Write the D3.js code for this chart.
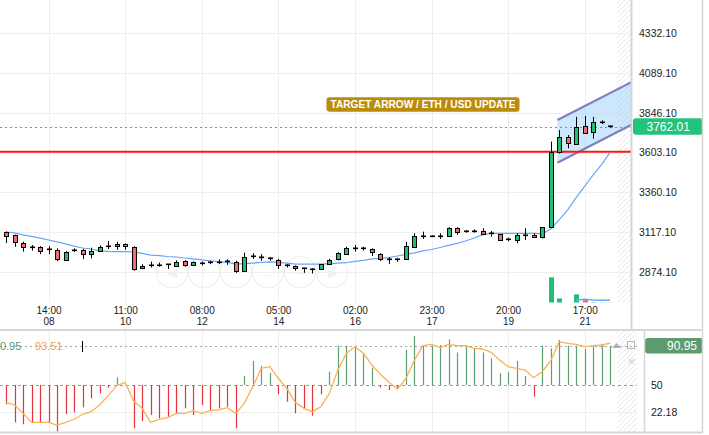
<!DOCTYPE html>
<html><head><meta charset="utf-8">
<script src="https://cdn.jsdelivr.net/npm/d3@7"></script>
<style>
html,body{margin:0;padding:0;background:#fff;}
svg{display:block;font-family:"Liberation Sans",Arial,sans-serif;}
</style></head><body>
<svg id="c" width="709" height="435"></svg>
<script>
// ---------------- data ----------------
const openP  = [3118,3099,3048,3024,3027,3012,3007,2946,3008,3004,2982,3001,3027,3031,3043,3027,2897,2913,2915,2919,2914,2938,2916,2930,2933,2933,2936,2931,2874,2971,2967,2956,2946,2912,2906,2896,2891,2891,2920,2950,2987,3017,3017,3011,2981,2952,2951,2950,3027,3090,3088,3093,3094,3140,3123,3123,3125,3113,3103,3072,3068,3099,3099,3084,3148,3602,3696,3658,3766,3725,3791,3763];
const highP  = [3120,3101,3058,3037,3030,3030,3017,3000,3017,3014,3021,3035,3062,3057,3047,3030,2920,2936,2930,2921,2944,2945,2937,2936,2941,2950,2950,2941,2991,2987,2981,2962,2953,2920,2912,2899,2895,2922,2953,2994,3027,3037,3027,3017,2987,2963,2959,3057,3109,3119,3096,3109,3146,3146,3129,3133,3140,3123,3105,3082,3109,3140,3109,3146,3670,3740,3710,3821,3827,3821,3800,3770];
const lowP   = [3050,3027,2997,3003,2981,2982,2938,2940,2994,2951,2956,2995,3013,3008,3008,2880,2890,2900,2905,2891,2904,2904,2912,2912,2920,2920,2916,2867,2874,2952,2941,2941,2891,2900,2880,2867,2863,2891,2914,2943,2982,2997,3003,2970,2940,2922,2934,2946,3020,3075,3087,3075,3088,3100,3113,3113,3104,3088,3062,3060,3048,3068,3085,3078,3140,3597,3629,3658,3719,3688,3777,3752];
const closeP = [3093,3054,3023,3022,3003,3010,2951,2997,3006,2982,3001,3027,3029,3043,3032,2895,2909,2915,2916,2918,2936,2914,2933,2929,2934,2932,2937,2874,2962,2972,2966,2957,2916,2913,2891,2895,2892,2922,2947,2987,3021,3018,3016,2990,2952,2953,2950,3031,3093,3091,3095,3094,3140,3113,3122,3124,3109,3112,3068,3071,3099,3100,3085,3146,3605,3696,3660,3760,3725,3787,3792,3762.01];
const maLine = [3117,3111,3099,3090,3079,3068,3056,3044,3031,3019,3013,3001,2998,2997,2997,2995,2986,2976,2973,2967,2964,2958,2952,2946,2940,2935,2931,2921,2923,2927,2931,2934,2931,2927,2921,2921,2921,2921,2923,2926,2929,2937,2943,2952,2956,2961,2970,2980,2989,3001,3010,3022,3035,3047,3062,3080,3099,3108,3109,3109,3109,3109,3108,3105,3135,3191,3252,3327,3398,3466,3531,3605];
const volume = [0,0,0,0,0,0,0,0,0,0,0,0,0,0,0,0,0,0,0,0,0,0,0,0,0,0,0,0,0,0,0,0,0,0,0,0,0,0,0,0,0,0,0,0,0,0,0,0,0,0,0,0,0,0,0,0,0,0,0,0,0,0,0,0,100,17,0,33,14,2,1,1];
const volumeMA = [null,null,null,null,null,null,null,null,null,null,null,null,null,null,null,null,null,null,null,null,null,null,null,null,null,null,null,null,null,null,null,null,null,null,null,null,null,null,null,null,null,null,null,null,null,null,null,null,null,null,null,null,null,null,null,null,null,null,null,null,null,null,null,null,null,null,null,10,14,11,10,10];
const oscHist = [29.9,11.1,9.1,10.7,10.7,10.7,1.4,19.8,21.5,26.7,36.1,41.4,47.2,58,50.5,4.9,12.5,18.8,15.3,17,20.5,25.7,18.8,29.2,24,25.7,27.4,4.9,59.4,75,69.8,62.8,40.3,32.6,20.5,25.7,18,40.3,63.9,91,91,90,82,68,47.2,44.8,47,86.5,101,91.7,91,91.7,97.6,84,89.9,87.5,84,77.8,62.2,63.2,75,59.4,37.8,91,88.2,96.9,91,91,87.5,91.7,91.7,90.95];
const oscSignal = [32,29.2,20.5,11.1,11.1,11.1,8.3,11.1,14.3,19.5,22.2,29.2,38.9,49.3,52.8,33.3,25.7,11.1,14.3,15.9,20.5,20.5,23.3,20.5,23.3,24,26.4,20.5,30.9,48.3,67.4,69.1,57,46.5,32,25.7,22.2,27.4,41.4,65.6,83,89.9,83,70.8,61.1,52.8,45.8,57,76,91,92.4,88.9,92.4,91,91,88.2,87.5,84,76,69.1,67.4,65.6,57.6,63.9,75,95.1,93.4,92.4,89.9,91,91.7,93.51];
const priceTicks = [2874.10,3117.10,3360.10,3603.10,3846.10,4089.10,4332.10];
const oscTicks = [22.18,50];
const timeTicks = ["2024-05-08T14:00Z","2024-05-10T11:00Z","2024-05-12T08:00Z","2024-05-14T05:00Z","2024-05-16T02:00Z","2024-05-17T23:00Z","2024-05-19T20:00Z","2024-05-21T17:00Z"];
const lastPrice = 3762.01, lastOsc = 90.95, lastSignal = 93.51;
const resistance = 3608;
const channelTop = [[64.8,3802],[73.6,4036]];
const channelBottom = [[64.8,3541],[73.6,3776]];
const annotationText = "TARGET ARROW / ETH / USD UPDATE";
const annotationAt = [49, 3897];

// ---------------- setup ----------------
const startTime = Date.UTC(2024,4,7,13), stepMs = 5*3600e3;
const tOf = i => new Date(startTime + i*stepMs);
const svg = d3.select("#c");
const plotR = 632, plotB = 302.7;
const GREEN = "#1fbf78", RED = "#f36c6c";

const x = d3.scaleUtc().domain([tOf(-0.705), tOf(73.56)]).range([0, plotR]);
const y = d3.scaleLinear().domain([2874.1, 4332.1]).range([271.7, 33.3]);
const yv = d3.scaleLinear().domain([0, 100]).range([plotB, 277.3]);
const yo = d3.scaleLinear().domain([22.18, 90.95]).range([411.7, 345.7]);
const tickDates = timeTicks.map(s => new Date(s));
const px = v => Math.round(v) + 0.5;

const defs = svg.append("defs");
const pat = defs.append("pattern").attr("id","hatch").attr("patternUnits","userSpaceOnUse").attr("width",5).attr("height",5);
pat.append("path").attr("d","M-1,1 l2,-2 M0,5 l5,-5 M4,6 l2,-2").attr("stroke","#e6e6e6").attr("stroke-width",1);
defs.append("clipPath").attr("id","mainClip").append("rect").attr("x",0).attr("y",0).attr("width",plotR).attr("height",plotB);
defs.append("clipPath").attr("id","oscClip").append("rect").attr("x",0).attr("y",331).attr("width",637).attr("height",101);

// ---------------- main panel ----------------
const main = svg.append("g").attr("clip-path","url(#mainClip)");
main.append("rect").attr("x",617).attr("y",0).attr("width",15).attr("height",plotB).attr("fill","url(#hatch)");
main.append("g").selectAll("line").data(priceTicks).join("line")
  .attr("x1",0).attr("x2",plotR).attr("y1",d=>px(y(d))).attr("y2",d=>px(y(d)))
  .attr("stroke","#eeeeee");
main.append("g").selectAll("line").data(tickDates).join("line")
  .attr("x1",d=>px(x(d))).attr("x2",d=>px(x(d))).attr("y1",0).attr("y2",plotB)
  .attr("stroke","#eeeeee");

// nav circles (very faint)
const navX = [172,204,236,268,300,332], navG = ["◀","+","−","↔","⇢","▶"];
const nav = main.append("g");
nav.selectAll("circle").data(navX).join("circle").attr("cx",d=>d).attr("cy",272).attr("r",15.5)
  .attr("fill","none").attr("stroke","#f0f0f0").attr("stroke-width",1.2);
nav.selectAll("text").data(navX).join("text").attr("x",d=>d).attr("y",277).attr("text-anchor","middle")
  .attr("font-size",12).attr("fill","#f0f0f0").text((d,i)=>navG[i]);

// channel
const cPoly = [...channelTop, ...channelBottom.slice().reverse()].map(([i,p])=>[x(tOf(i)), y(p)]);
main.append("polygon").attr("points", cPoly.map(p=>p.join(",")).join(" ")).attr("fill","rgba(144,202,249,0.45)");
[channelTop, channelBottom].forEach(seg=>{
  main.append("line").attr("x1",x(tOf(seg[0][0]))).attr("y1",y(seg[0][1]))
    .attr("x2",x(tOf(seg[1][0]))).attr("y2",y(seg[1][1]))
    .attr("stroke","#7e80c6").attr("stroke-width",2.2);
});

// volume
main.append("g").selectAll("rect").data(volume.map((v,i)=>({v,i})).filter(d=>d.v>0)).join("rect")
  .attr("x",d=>Math.round(x(tOf(d.i)))-2).attr("width",5)
  .attr("y",d=>yv(d.v)).attr("height",d=>plotB-yv(d.v))
  .attr("fill",d=>closeP[d.i]>=openP[d.i]?GREEN:RED);
main.append("path").datum(volumeMA.map((v,i)=>({v,i})).filter(d=>d.v!=null))
  .attr("d", d3.line().x(d=>x(tOf(d.i))).y(d=>yv(d.v)))
  .attr("fill","none").attr("stroke","#6aa6f8").attr("stroke-width",1.5);

// red resistance line
main.append("line").attr("x1",0).attr("x2",plotR).attr("y1",y(resistance)).attr("y2",y(resistance))
  .attr("stroke","#ff1414").attr("stroke-width",2);
// last price dotted line
main.append("line").attr("x1",0).attr("x2",plotR).attr("y1",px(y(lastPrice))).attr("y2",px(y(lastPrice)))
  .attr("stroke","#8a8a8a").attr("stroke-dasharray","2,3");

// MA line
main.append("path").datum(maLine)
  .attr("d", d3.line().x((d,i)=>x(tOf(i))).y(d=>y(d)))
  .attr("fill","none").attr("stroke","#6aa6f8").attr("stroke-width",1.2);

// candles
const candles = main.append("g");
openP.forEach((o,i)=>{
  const c = closeP[i], h = highP[i], l = lowP[i];
  const cx = Math.round(x(tOf(i)));
  candles.append("line").attr("x1",cx+0.5).attr("x2",cx+0.5).attr("y1",y(h)).attr("y2",y(l))
    .attr("stroke","#000").attr("stroke-width",1);
  const top = Math.min(y(o),y(c)), bh = Math.abs(y(o)-y(c));
  if (bh < 1.3) {
    candles.append("rect").attr("x",cx-2).attr("width",5).attr("y",Math.round(top)-0.5).attr("height",1.6).attr("fill","#000");
  } else {
    candles.append("rect").attr("x",cx-1.5).attr("width",4)
      .attr("y",Math.round(top)+0.5).attr("height",Math.max(1,Math.round(bh)))
      .attr("fill", c>=o?GREEN:RED).attr("stroke","#000").attr("stroke-width",1);
  }
});

// annotation
const ax = x(tOf(annotationAt[0])), ay = y(annotationAt[1]);
svg.append("rect").attr("x",ax-96.5).attr("y",ay-7.2).attr("width",193).attr("height",14.6).attr("rx",3)
  .attr("fill","#b98c0c");
svg.append("text").attr("x",ax).attr("y",ay+4).attr("text-anchor","middle")
  .attr("font-size",11).attr("font-weight","bold").attr("fill","#fff")
  .attr("textLength",185).attr("lengthAdjust","spacingAndGlyphs").text(annotationText);

// ---------------- axes ----------------
const yAxis = d3.axisRight(y).tickValues(priceTicks).tickSize(0).tickFormat(d3.format(".2f"));
const yg = svg.append("g").attr("transform",`translate(639,0)`).call(yAxis);
yg.select(".domain").remove();
yg.selectAll("text").attr("x",0).attr("dy","0.33em").attr("font-size",10.5).attr("fill","#222")
  .attr("font-family","Liberation Sans, Arial, sans-serif");

const fH = d3.utcFormat("%H:%M"), fD = d3.utcFormat("%d");
const xAxis = d3.axisBottom(x).tickValues(tickDates).tickSize(0).tickFormat("");
const xg = svg.append("g").attr("transform",`translate(0,${plotB})`).call(xAxis);
xg.select(".domain").remove();
xg.selectAll(".tick text").remove();
xg.selectAll(".tick").each(function(d){
  const t = d3.select(this).append("text").attr("y",11.2).attr("text-anchor","middle").attr("font-size",10).attr("fill","#222")
    .attr("font-family","Liberation Sans, Arial, sans-serif");
  t.append("tspan").attr("x",0).text(fH(d));
  t.append("tspan").attr("x",0).attr("dy",11.2).text(fD(d));
});

// last price badge
const by = y(lastPrice);
svg.append("rect").attr("x",633).attr("y",by-8.3).attr("width",70).attr("height",16.6).attr("rx",3).attr("fill","#22c37b");
svg.append("text").attr("x",646.5).attr("y",by+4.4).attr("font-size",12).attr("fill","#fff").text(d3.format(".2f")(lastPrice));

// panel borders
const border = "#d6d6d6";
svg.append("line").attr("x1",631.5).attr("x2",631.5).attr("y1",0).attr("y2",330).attr("stroke",border).attr("stroke-width",2);
svg.append("line").attr("x1",702.5).attr("x2",702.5).attr("y1",0).attr("y2",330).attr("stroke",border).attr("stroke-width",1.5);
svg.append("line").attr("x1",0).attr("x2",703).attr("y1",330).attr("y2",330).attr("stroke",border).attr("stroke-width",2);

// ---------------- oscillator panel ----------------
const osc = svg.append("g").attr("clip-path","url(#oscClip)");
osc.append("rect").attr("x",617).attr("y",331).attr("width",20).attr("height",101).attr("fill","url(#hatch)");
osc.append("g").selectAll("line").data(tickDates).join("line")
  .attr("x1",d=>px(x(d))).attr("x2",d=>px(x(d))).attr("y1",331).attr("y2",432).attr("stroke","#eeeeee");
osc.append("line").attr("x1",0).attr("x2",637).attr("y1",px(yo(22.18))).attr("y2",px(yo(22.18))).attr("stroke","#eeeeee");
osc.append("line").attr("x1",0).attr("x2",637).attr("y1",px(yo(50))).attr("y2",px(yo(50)))
  .attr("stroke","#9a9a9a").attr("stroke-dasharray","3,3");
osc.append("line").attr("x1",0).attr("x2",637).attr("y1",px(yo(lastOsc))).attr("y2",px(yo(lastOsc)))
  .attr("stroke","#a8a8a8").attr("stroke-dasharray","2,3");
osc.append("g").selectAll("line").data(oscHist).join("line")
  .attr("x1",(d,i)=>Math.round(x(tOf(i)))+0.5).attr("x2",(d,i)=>Math.round(x(tOf(i)))+0.5)
  .attr("y1",yo(50)).attr("y2",d=>yo(d))
  .attr("stroke",d=>d>=50?"#5e9e72":"#e8313a").attr("stroke-width",1.2);
osc.append("path").datum(oscSignal)
  .attr("d", d3.line().x((d,i)=>x(tOf(i))).y(d=>yo(d)))
  .attr("fill","none").attr("stroke","#fdb150").attr("stroke-width",1.3);

// osc legend text (first value partly hidden at the left edge, as in the source)
svg.append("text").attr("x",-6.2).attr("y",349.5).attr("font-size",11).attr("fill","#5a9a70").text(lastOsc.toFixed(2));
svg.append("text").attr("x",35).attr("y",349.5).attr("font-size",11).attr("fill","#eea24c").text(lastSignal.toFixed(2));
svg.append("line").attr("x1",82.5).attr("x2",82.5).attr("y1",341).attr("y2",352).attr("stroke","#000");

// panel icons
const ic = svg.append("g").attr("fill","#b0b0b0").attr("font-size",11).attr("text-anchor","middle");
ic.append("text").attr("x",601.7).attr("y",349.5).text("+");
ic.append("path").attr("d","M612,348 l4.5,-5 l4.5,5 z");
svg.append("rect").attr("x",627.5).attr("y",341.5).attr("width",7).attr("height",7).attr("fill","none").attr("stroke","#b8b8b8");
ic.append("text").attr("x",631.5).attr("y",366).attr("font-size",13).attr("fill","#d0d0d0").text("×");

// osc axis
const og = svg.append("g").attr("transform","translate(651,0)").call(d3.axisRight(yo).tickValues(oscTicks).tickSize(0).tickFormat(d=>d===50?"50":d3.format(".2f")(d)));
og.select(".domain").remove();
og.selectAll("text").attr("x",0).attr("dy","0.33em").attr("font-size",10.5).attr("fill","#222")
  .attr("font-family","Liberation Sans, Arial, sans-serif");
const oy = yo(lastOsc);
svg.append("rect").attr("x",645).attr("y",oy-7.8).attr("width",58).attr("height",15.6).attr("rx",3).attr("fill","#5e9c70");
svg.append("text").attr("x",697).attr("y",oy+4.3).attr("text-anchor","end").attr("font-size",12).attr("fill","#fff").text(lastOsc.toFixed(2));

svg.append("line").attr("x1",644.5).attr("x2",644.5).attr("y1",330).attr("y2",433).attr("stroke",border).attr("stroke-width",1.5);
svg.append("line").attr("x1",702.5).attr("x2",702.5).attr("y1",330).attr("y2",433).attr("stroke",border).attr("stroke-width",1.5);
svg.append("line").attr("x1",0).attr("x2",703).attr("y1",432.5).attr("y2",432.5).attr("stroke",border).attr("stroke-width",2);
</script>
</body></html>
